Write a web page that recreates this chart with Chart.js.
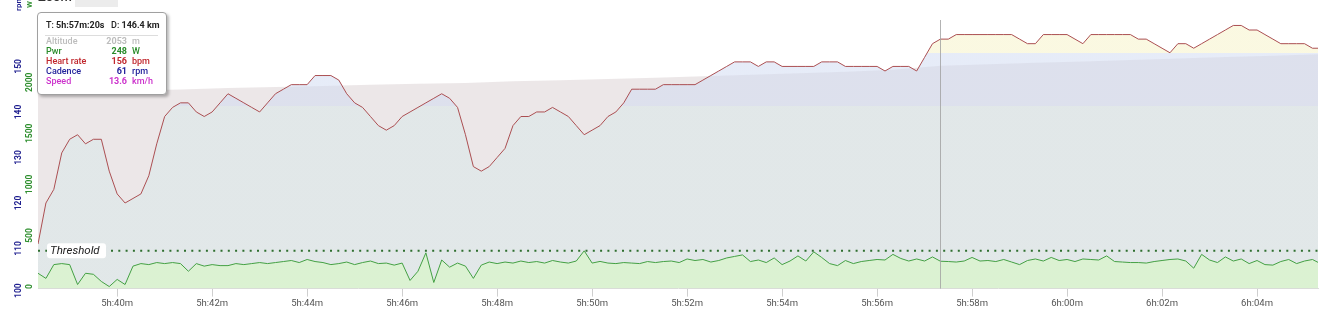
<!DOCTYPE html>
<html>
<head>
<meta charset="utf-8">
<script src="https://cdn.jsdelivr.net/npm/chart.js@4.4.1/dist/chart.umd.min.js"></script>
<style>
  html, body { margin: 0; padding: 0; background: #fff; }
  body { width: 1321px; height: 316px; overflow: hidden; position: relative; font-family: Roboto, sans-serif; }
  #wrap { position: absolute; left: 0; top: 0; width: 1321px; height: 316px; }
  #zoomTxt { position: absolute; left: 38px; top: -10px; font-size: 13px; font-weight: 500; color: #333; line-height: 13px; }
  #zoomBox { position: absolute; left: 75px; top: 0; width: 43px; height: 7px; background: #ececec; }
  #tip {
    position: absolute; left: 37px; top: 12px; width: 130px; height: 83px; box-sizing: border-box;
    background: #fff; border: 1px solid #a0a0a0; border-radius: 4px;
    box-shadow: 2px 2px 3px rgba(0,0,0,.28); font-size: 9px; font-weight: 500; line-height: 10px; color: #222;
  }
  #tip .hdr { position: absolute; top: 7px; left: 8px; width: 112px; }
  #tip .hdr span { position: absolute; top: 0; white-space: nowrap; }
  #tip .sep { position: absolute; top: 22px; left: 7px; width: 113px; height: 1px; background: #ddd; }
  #tip .rows { position: absolute; top: 23px; left: 0; width: 128px; }
  #tip .row { position: relative; height: 10px; }
  #tip .row span { position: absolute; top: 0; white-space: nowrap; }
  #tip .lab { left: 8px; }
  #tip .val { left: 40px; width: 49px; text-align: right; font-weight: 700; }
  #tip .unit { left: 94px; }
</style>
</head>
<body>
<div id="wrap"><canvas id="chart"></canvas></div>
<div id="zoomTxt">Zoom</div>
<div id="zoomBox"></div>
<div id="tip">
  <div class="hdr"><span style="left:0">T: <b>5h:57m:20s</b></span><span style="left:65px">D: <b>146.4 km</b></span></div>
  <div class="sep"></div>
  <div class="rows" id="tipRows"></div>
</div>
<script>
// ---- data (time in seconds of the ride) ----
const xMin = 20300;
const xMax = 21917;
const cursorTime = 21440;
const thresholdW = 350;

const xTickValues = [20400, 20520, 20640, 20760, 20880, 21000, 21120, 21240, 21360, 21480, 21600, 21720, 21840];
const xTickLabels = ['5h:40m', '5h:42m', '5h:44m', '5h:46m', '5h:48m', '5h:50m', '5h:52m', '5h:54m', '5h:56m', '5h:58m', '6h:00m', '6h:02m', '6h:04m'];

const rpmTicks = [100, 110, 120, 130, 140, 150];
const pwrTicks = [0, 500, 1000, 1500, 2000];

// heart rate, one value every 10 s from xMin
const hrStep = 10;
const hrValues = [
  111, 120, 123, 131, 134, 135, 133, 134, 134, 127,
  122, 120, 121, 122, 126, 133, 139, 141, 142, 142,
  140, 139, 140, 142, 144, 143, 142, 141, 140, 142,
  144, 145, 146, 146, 146, 148, 148, 148, 147, 144,
  142, 141, 139, 137, 136, 137, 139, 140, 141, 142,
  143, 144, 143, 141, 135, 128, 127, 128, 130, 132,
  137, 139, 139, 140, 140, 141, 140, 139, 137, 135,
  136, 137, 139, 140, 142, 145, 145, 145, 145, 146,
  146, 146, 146, 146, 147, 148, 149, 150, 151, 151,
  151, 150, 151, 151, 150, 150, 150, 150, 150, 151,
  151, 151, 150, 150, 150, 150, 150, 149, 150, 150,
  150, 149, 152, 155, 156, 156, 157, 157, 157, 157,
  157, 157, 157, 157, 156, 155, 155, 157, 157, 157,
  157, 156, 155, 157, 157, 157, 157, 157, 157, 156,
  156, 155, 154, 153, 155, 155, 154, 155, 156, 157,
  158, 159, 159, 158, 158, 157, 156, 155, 155, 155,
  155, 154, 154
];

// power (W), one value every 10 s from xMin
const pwrStep = 10;
const pwrValues = [
  130, 80, 215, 225, 215, 20, 130, 120, 50, 0,
  70, 20, 200, 225, 215, 235, 225, 235, 225, 150,
  225, 200, 215, 205, 205, 225, 215, 225, 235, 225,
  235, 245, 255, 235, 265, 245, 235, 215, 225, 240,
  215, 235, 250, 225, 230, 210, 230, 60, 150, 330,
  40, 260, 190, 230, 200, 80, 210, 240, 225, 240,
  230, 250, 235, 245, 230, 255, 240, 230, 250, 350,
  230, 246, 230, 225, 235, 230, 225, 245, 235, 245,
  250, 235, 270, 255, 265, 240, 255, 280, 295, 310,
  245, 260, 235, 280, 215, 250, 300, 250, 340, 285,
  225, 205, 255, 225, 245, 255, 265, 260, 315, 275,
  250, 270, 250, 290, 248, 245, 240, 250, 285, 250,
  255, 245, 265, 240, 215, 255, 270, 250, 285, 255,
  265, 245, 270, 265, 260, 300, 245, 240, 235, 235,
  230, 245, 255, 265, 270, 250, 180, 315, 260, 235,
  290, 250, 270, 225, 255, 215, 210, 245, 265, 225,
  250, 265, 225
];

// altitude (m), one value every 60 s from xMin
const altStep = 60;
const altValues = [
  1797, 1806, 1815, 1824, 1838, 1847, 1856, 1866, 1875, 1884,
  1898, 1909, 1920, 1931, 1944, 1958, 1972, 1985, 2004, 2040,
  2055, 2068, 2081, 2094, 2107, 2120, 2133, 2146
];

const hrZones = [141.4, 152.9];

// tooltip rows at the cursor
const tipLabels = ['Altitude', 'Pwr', 'Heart rate', 'Cadence', 'Speed'];
const tipValues = ['2053', '248', '156', '61', '13.6'];
const tipUnits = ['m', 'W', 'bpm', 'rpm', 'km/h'];

// ---- styles ----
const tipColors = ['#bdbdbd', '#2a8c2a', '#c0272d', '#23239b', '#cc33cc'];
const zoneColors = ['rgba(218,233,234,0.55)', 'rgba(210,220,242,0.55)', 'rgba(246,242,196,0.5)'];
const blueAxis = '#1f1f8f';
const greenAxis = '#2f8f2f';

const rows = document.getElementById('tipRows');
tipLabels.forEach((l, i) => {
  const r = document.createElement('div');
  r.className = 'row';
  r.style.color = tipColors[i];
  r.innerHTML = '<span class="lab">' + l + '</span><span class="val">' + tipValues[i] + '</span><span class="unit">' + tipUnits[i] + '</span>';
  rows.appendChild(r);
});

const toPoints = (vals, step) => vals.map((v, i) => ({ x: xMin + i * step, y: v }));

function hrFill(context) {
  const chart = context.chart;
  const { ctx, chartArea, scales } = chart;
  if (!chartArea) return null;
  const y = scales.yHr;
  const h = chartArea.bottom - chartArea.top;
  const f1 = (chartArea.bottom - y.getPixelForValue(hrZones[0])) / h;
  const f2 = (chartArea.bottom - y.getPixelForValue(hrZones[1])) / h;
  const g = ctx.createLinearGradient(0, chartArea.bottom, 0, chartArea.top);
  g.addColorStop(0, zoneColors[0]);
  g.addColorStop(f1, zoneColors[0]);
  g.addColorStop(f1, zoneColors[1]);
  g.addColorStop(f2, zoneColors[1]);
  g.addColorStop(f2, zoneColors[2]);
  g.addColorStop(1, zoneColors[2]);
  return g;
}

// cursor line, threshold label, left axis labels
const overlay = {
  id: 'overlay',
  afterDatasetsDraw(chart) {
    const { ctx, chartArea: a, scales } = chart;
    ctx.save();
    const cx = Math.round(scales.x.getPixelForValue(cursorTime)) + 0.5;
    ctx.strokeStyle = 'rgba(160,160,160,0.8)';
    ctx.lineWidth = 1;
    ctx.beginPath();
    ctx.moveTo(cx, a.top);
    ctx.lineTo(cx, a.bottom);
    ctx.stroke();

    const ty = scales.yPwr.getPixelForValue(thresholdW);
    ctx.fillStyle = '#fff';
    ctx.beginPath();
    ctx.roundRect(47, ty - 7.5, 59, 15, 3);
    ctx.fill();
    ctx.font = 'italic 11.5px Roboto';
    ctx.fillStyle = '#222';
    ctx.textBaseline = 'middle';
    ctx.textAlign = 'left';
    ctx.fillText('Threshold', 50, ty);
    ctx.restore();
  },
  afterDraw(chart) {
    const { ctx, chartArea: a, scales } = chart;
    ctx.save();
    ctx.font = 'bold 8.5px Roboto';
    ctx.textAlign = 'center';
    ctx.textBaseline = 'middle';
    const label = (txt, x, y, color) => {
      ctx.save();
      ctx.translate(x, y);
      ctx.rotate(-Math.PI / 2);
      ctx.fillStyle = color;
      ctx.fillText(txt, 0, 0);
      ctx.restore();
    };
    rpmTicks.forEach(v => label(String(v), 19, Math.min(scales.yHr.getPixelForValue(v), a.bottom + 2), blueAxis));
    pwrTicks.forEach(v => label(String(v), 29.5, Math.min(scales.yPwr.getPixelForValue(v), a.bottom + 2), greenAxis));
    ctx.textAlign = 'left';
    ctx.font = 'bold 8px Roboto';
    label('rpm', 19, 11, blueAxis);
    label('W', 29.5, 8, greenAxis);
    ctx.restore();
  }
};

new Chart(document.getElementById('chart'), {
  type: 'line',
  data: {
    datasets: [
      {
        label: 'Threshold',
        data: [{ x: xMin, y: thresholdW }, { x: xMax, y: thresholdW }],
        yAxisID: 'yPwr',
        borderColor: '#2e6e2e',
        borderWidth: 2,
        borderDash: [2, 5.3],
        pointRadius: 0,
        fill: false,
        order: 1
      },
      {
        label: 'Pwr',
        data: toPoints(pwrValues, pwrStep),
        yAxisID: 'yPwr',
        borderColor: '#44a044',
        borderWidth: 1,
        backgroundColor: 'rgba(215,248,195,0.6)',
        fill: 'start',
        pointRadius: 0,
        order: 2
      },
      {
        label: 'Heart rate',
        data: toPoints(hrValues, hrStep),
        yAxisID: 'yHr',
        borderColor: '#ab4f52',
        borderWidth: 1,
        backgroundColor: hrFill,
        fill: 'start',
        pointRadius: 0,
        order: 3
      },
      {
        label: 'Altitude',
        data: toPoints(altValues, altStep),
        yAxisID: 'yAlt',
        borderColor: 'rgba(0,0,0,0)',
        borderWidth: 0,
        backgroundColor: 'rgba(176,156,160,0.24)',
        fill: 'start',
        pointRadius: 0,
        order: 4
      }
    ]
  },
  options: {
    responsive: true,
    maintainAspectRatio: false,
    animation: false,
    events: [],
    layout: { padding: { left: 38, right: 3, top: 20, bottom: 6 } },
    plugins: {
      legend: { display: false },
      tooltip: { enabled: false }
    },
    scales: {
      x: {
        type: 'linear',
        min: xMin,
        max: xMax,
        grid: { drawOnChartArea: false, tickLength: 8, color: '#cfcfcf' },
        border: { color: '#dcdcdc' },
        ticks: {
          autoSkip: false,
          maxRotation: 0,
          padding: 1,
          color: '#555',
          font: { family: 'Roboto', size: 9.5 },
          callback: (v, i) => xTickLabels[i]
        },
        afterBuildTicks: s => { s.ticks = xTickValues.map(v => ({ value: v })); }
      },
      yHr: { display: false, position: 'left', min: 101.2, max: 160.2 },
      yPwr: { display: false, position: 'left', min: -20, max: 2610 },
      yAlt: { display: false, position: 'right', min: 0, max: 2460 }
    }
  },
  plugins: [overlay]
});
</script>
</body>
</html>
